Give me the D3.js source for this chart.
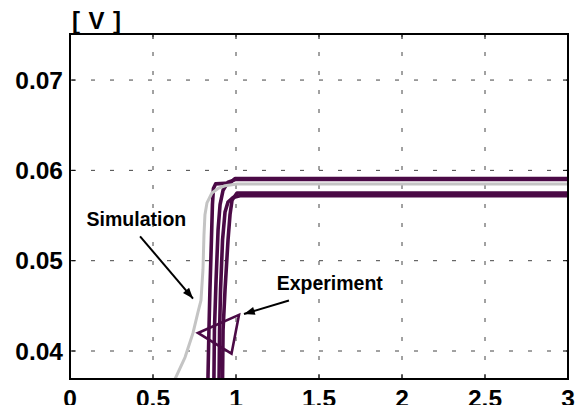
<!DOCTYPE html>
<html>
<head>
<meta charset="utf-8">
<script src="https://cdn.jsdelivr.net/npm/d3@7"></script>
<style>
  body { margin: 0; background: #fff; }
  svg { display: block; font-family: "Liberation Sans", Arial, sans-serif; font-weight: bold; }
</style>
</head>
<body>
<script>
// tick values
var xTicks = [0, 0.5, 1, 1.5, 2, 2.5, 3];
var yTicks = [0.04, 0.05, 0.06, 0.07];
var xTickLabels = ['0', '0.5', '1', '1.5', '2', '2.5', '3'];
var yTickLabels = ['0.04', '0.05', '0.06', '0.07'];

// experiment curves (4 runs)
var exp1 = [[0.831,0.0369],[0.837,0.0423],[0.843,0.0468],[0.852,0.0523],[0.858,0.0562],[0.864,0.0580],[0.877,0.0585],[0.964,0.0586],[0.994,0.0591],[3,0.0591]];
var exp2 = [[0.867,0.0369],[0.870,0.0423],[0.880,0.0479],[0.892,0.0534],[0.904,0.0562],[0.922,0.0578],[0.952,0.0587],[1.0,0.0590],[3,0.0590]];
var exp3 = [[0.898,0.0369],[0.901,0.0423],[0.907,0.0468],[0.919,0.0523],[0.934,0.0554],[0.952,0.0565],[0.982,0.0570],[1.024,0.0572],[3,0.0572]];
var exp4 = [[0.919,0.0369],[0.922,0.0423],[0.934,0.0468],[0.952,0.0523],[0.964,0.0551],[0.976,0.0567],[1.006,0.0575],[3,0.0575]];

// simulation curve
var simX = [0.633, 0.693, 0.741, 0.771, 0.789, 0.801, 0.807, 0.813, 0.825, 0.855, 0.892, 0.934, 1.006, 3];
var simY = [0.0369, 0.0393, 0.0420, 0.0443, 0.0456, 0.0490, 0.0528, 0.0551, 0.0564, 0.0575, 0.0580, 0.0583, 0.0585, 0.0585];

// triangle mark and annotations
var triangle = [[0.771,0.0420],[1.018,0.0440],[0.973,0.0397]];
var notes = [
  {text: 'Simulation', tx: 0.10, ty: 0.0538, from: [0.422, 0.0527], to: [0.741, 0.0458]},
  {text: 'Experiment', tx: 1.245, ty: 0.0467, from: [1.319, 0.0456], to: [1.048, 0.0441]}
];

const width = 578, height = 405;
const margin = {top: 34, right: 10, bottom: 26, left: 70};

const svg = d3.select('body').append('svg')
    .attr('width', width)
    .attr('height', height);

const x = d3.scaleLinear().domain([0, 3]).range([margin.left, width - margin.right]);
const y = d3.scaleLinear().domain([0.0369, 0.0751]).range([height - margin.bottom, margin.top]);

svg.append('defs').append('clipPath')
    .attr('id', 'plot')
  .append('rect')
    .attr('x', x(0)).attr('y', y(0.0751))
    .attr('width', x(3) - x(0)).attr('height', y(0.0369) - y(0.0751));

svg.select('defs').append('marker')
    .attr('id', 'arrow')
    .attr('markerUnits', 'userSpaceOnUse')
    .attr('viewBox', '0 -5 12 10')
    .attr('refX', 12)
    .attr('markerWidth', 12)
    .attr('markerHeight', 9)
    .attr('orient', 'auto')
  .append('path')
    .attr('d', 'M 0 -4.5 L 12 0 L 0 4.5 Z')
    .attr('fill', '#000');

// grid
const grid = svg.append('g')
    .attr('stroke', '#444')
    .attr('stroke-width', 1)
    .attr('stroke-dasharray', '4,15');
grid.selectAll('.gx').data(xTicks.slice(1, -1)).enter().append('line')
    .attr('x1', d => x(d)).attr('x2', d => x(d))
    .attr('y1', y(0.0369)).attr('y2', y(0.0751));
grid.selectAll('.gy').data(yTicks).enter().append('line')
    .attr('x1', x(0) + 2).attr('x2', x(3))
    .attr('y1', d => y(d)).attr('y2', d => y(d));

// inward ticks on all four sides
const ticks = svg.append('g').attr('stroke', '#000').attr('stroke-width', 1);
xTicks.forEach(function(t) {
  ticks.append('line').attr('x1', x(t)).attr('x2', x(t)).attr('y1', y(0.0369)).attr('y2', y(0.0369) - 5);
  ticks.append('line').attr('x1', x(t)).attr('x2', x(t)).attr('y1', y(0.0751)).attr('y2', y(0.0751) + 5);
});
yTicks.forEach(function(t) {
  ticks.append('line').attr('x1', x(0)).attr('x2', x(0) + 5).attr('y1', y(t)).attr('y2', y(t));
  ticks.append('line').attr('x1', x(3)).attr('x2', x(3) - 5).attr('y1', y(t)).attr('y2', y(t));
});

// curves
const line = d3.line().x(d => x(d[0])).y(d => y(d[1]));
const curves = svg.append('g').attr('clip-path', 'url(#plot)');

curves.selectAll('.exp').data([exp1, exp2, exp3, exp4]).enter().append('path')
    .attr('d', line)
    .attr('fill', 'none')
    .attr('stroke', '#4b0a46')
    .attr('stroke-width', 3.6)
    .attr('stroke-linejoin', 'round');

curves.append('path')
    .attr('d', line(simX.map((v, i) => [v, simY[i]])))
    .attr('fill', 'none')
    .attr('stroke', '#c4c4c4')
    .attr('stroke-width', 3)
    .attr('stroke-linejoin', 'round');

svg.append('path')
    .attr('d', line(triangle) + 'Z')
    .attr('fill', 'none')
    .attr('stroke', '#4b0a46')
    .attr('stroke-width', 2.6)
    .attr('stroke-linejoin', 'miter');

// annotations
notes.forEach(function(n) {
  svg.append('text')
      .attr('x', x(n.tx)).attr('y', y(n.ty))
      .attr('font-size', 19.5)
      .attr('fill', '#000')
      .text(n.text);
  svg.append('line')
      .attr('x1', x(n.from[0])).attr('y1', y(n.from[1]))
      .attr('x2', x(n.to[0])).attr('y2', y(n.to[1]))
      .attr('stroke', '#000')
      .attr('stroke-width', 2)
      .attr('marker-end', 'url(#arrow)');
});

// frame
svg.append('rect')
    .attr('x', x(0)).attr('y', y(0.0751))
    .attr('width', x(3) - x(0)).attr('height', y(0.0369) - y(0.0751))
    .attr('fill', 'none')
    .attr('stroke', '#000')
    .attr('stroke-width', 2);

// tick labels (bottom row runs off the edge, as in the original)
svg.selectAll('.xl').data(xTicks).enter().append('text')
    .attr('x', d => x(d))
    .attr('y', 407)
    .attr('text-anchor', 'middle')
    .attr('font-size', 24.5)
    .text((d, i) => xTickLabels[i]);

svg.selectAll('.yl').data(yTicks).enter().append('text')
    .attr('x', x(0) - 7)
    .attr('y', d => y(d) + 8.5)
    .attr('text-anchor', 'end')
    .attr('font-size', 24.5)
    .text((d, i) => yTickLabels[i]);

// unit label
svg.append('text')
    .attr('x', 72)
    .attr('y', 29)
    .attr('font-size', 24)
    .attr('textLength', 49)
    .attr('lengthAdjust', 'spacing')
    .text('[ V ]');
</script>
</body>
</html>
